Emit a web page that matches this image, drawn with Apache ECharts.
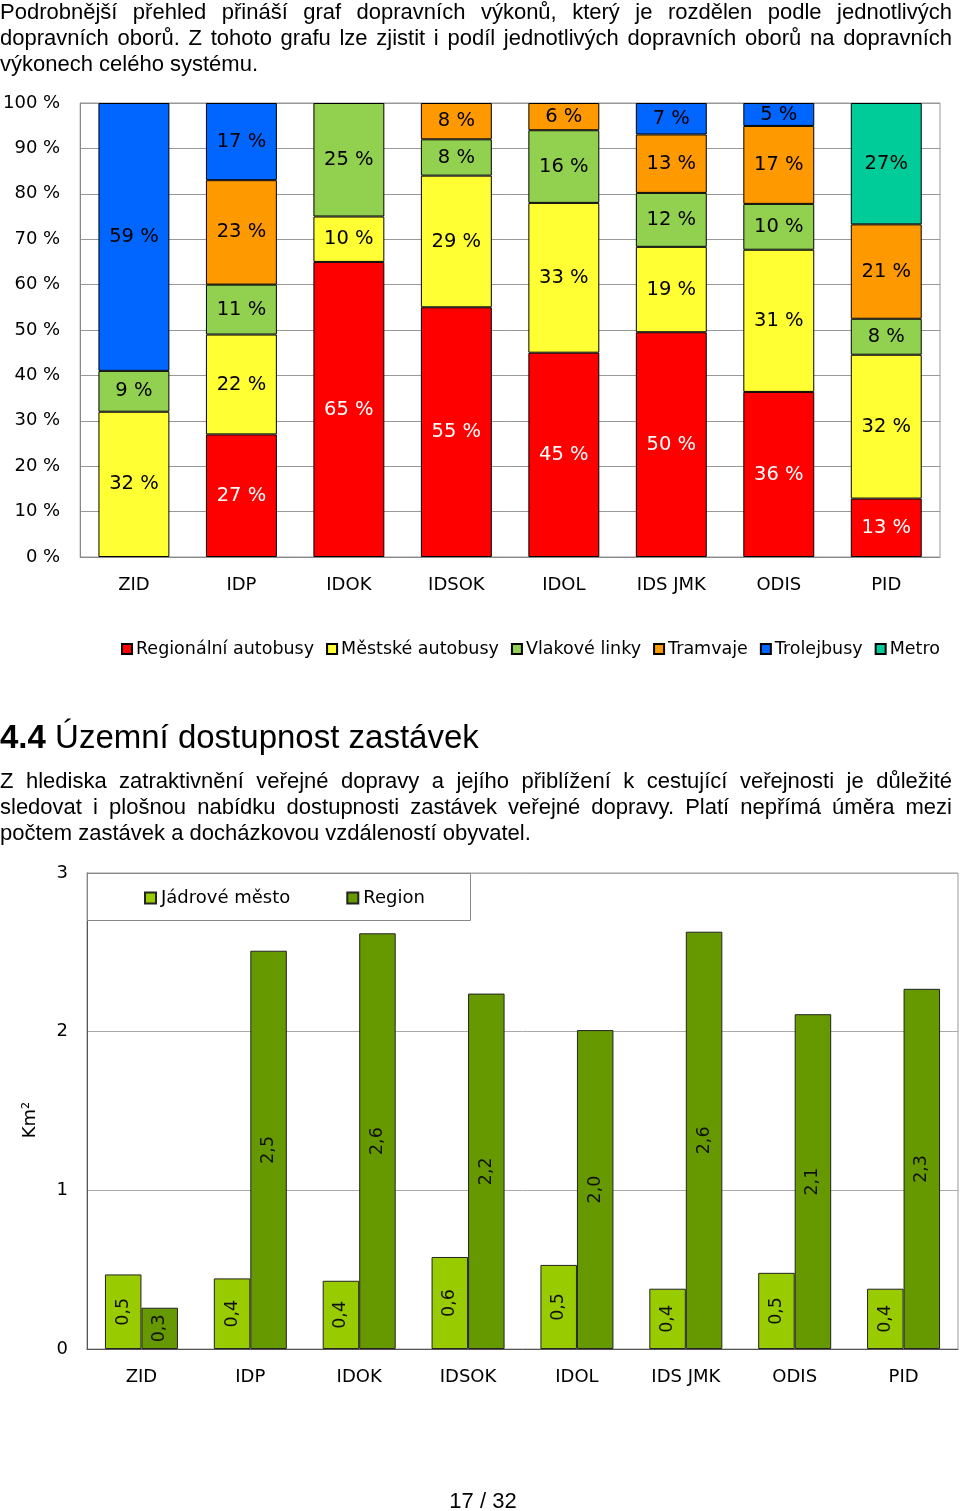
<!DOCTYPE html>
<html><head><meta charset="utf-8">
<script src="https://cdn.jsdelivr.net/npm/echarts@6/dist/echarts.min.js"></script>
<style>
html,body{margin:0;padding:0;background:#fff;}
#page{position:relative;width:960px;height:1511px;overflow:hidden;background:#fff;}
#chart{position:absolute;left:0;top:0;width:960px;height:1511px;}
.txt{position:absolute;left:0;width:952px;font-family:"Liberation Sans",Arial,sans-serif;font-size:22px;color:#000;z-index:5;}
.txt div{height:26px;line-height:26px;}
.j{text-align:justify;text-align-last:justify;}
</style></head>
<body><div id="page">
<div id="chart"></div>
<div class="txt" style="top:-1px;">
<div class="j">Podrobnější přehled přináší graf dopravních výkonů, který je rozdělen podle jednotlivých</div>
<div class="j">dopravních oborů. Z tohoto grafu lze zjistit i podíl jednotlivých dopravních oborů na dopravních</div>
<div>výkonech celého systému.</div>
</div>
<div class="txt" style="top:717px;font-size:33px;"><div style="height:40px;line-height:40px;"><b>4.4</b> Územní dostupnost zastávek</div></div>
<div class="txt" style="top:768px;">
<div class="j">Z hlediska zatraktivnění veřejné dopravy a jejího přiblížení k cestující veřejnosti je důležité</div>
<div class="j">sledovat i plošnou nabídku dostupnosti zastávek veřejné dopravy. Platí nepřímá úměra mezi</div>
<div>počtem zastávek a docházkovou vzdáleností obyvatel.</div>
</div>
<div class="txt" style="top:1488px;width:960px;text-align:center;"><div style="padding-left:6px;">17 / 32</div></div>
</div>
<script>
// ---- Chart 1: share of transport modes (%) ----
const categories = ['ZID','IDP','IDOK','IDSOK','IDOL','IDS JMK','ODIS','PID'];
const regionalni = [0,27,65,55,45,50,36,13];
const mestske    = [32,22,10,29,33,19,31,32];
const vlakove    = [9,11,25,8,16,12,10,8];
const tramvaje   = [0,23,0,8,6,13,17,21];
const trolejbusy = [59,17,0,0,0,7,5,0];
const metro      = [0,0,0,0,0,0,0,27];
const modeNames  = ['Regionální autobusy','Městské autobusy','Vlakové linky','Tramvaje','Trolejbusy','Metro'];
const pctTicks   = [0,10,20,30,40,50,60,70,80,90,100];

// ---- Chart 2: stop accessibility (km2) ----
const jadrove = [0.47,0.445,0.43,0.58,0.53,0.38,0.48,0.38];
const region  = [0.26,2.51,2.62,2.24,2.01,2.63,2.11,2.27];
const areaNames = ['Jádrové město','Region'];

const modeColors = ['#ff0000','#ffff33','#92d050','#ff9900','#0066ff','#00cc99'];
const labelSuffix = [' %',' %',' %',' %',' %','%'];
const modeValues = [regionalni, mestske, vlakove, tramvaje, trolejbusy, metro];
const totals = categories.map((c,j)=>modeValues.reduce((s,a)=>s+a[j],0));
const FF = 'DejaVu Sans';

const series = modeValues.map((arr,i)=>({
  name: modeNames[i], type:'bar', stack:'share', xAxisIndex:0, yAxisIndex:0,
  barWidth:'66%',
  data: arr.map((v,j)=> v ? {value: v/totals[j]*100, raw: v} : null),
  itemStyle:{color: modeColors[i], borderColor:'#000', borderWidth:1},
  label:{show:true, position:'inside', fontFamily:FF, fontSize:19.5,
    color: i===0 ? '#fff' : '#000',
    formatter: p => p.data ? p.data.raw + labelSuffix[i] : ''}
}));

const fmt = v => v.toFixed(1).replace('.', ',');
[jadrove, region].forEach((arr,i)=>{
  series.push({
    name: areaNames[i], type:'bar', xAxisIndex:1, yAxisIndex:1,
    barWidth:36.5, barGap:'0%',
    data: arr,
    itemStyle:{color: i===0 ? '#99cc00' : '#669900', borderColor:'#222', borderWidth:1},
    label:{show:true, position:'inside', rotate:90, fontFamily:FF, fontSize:17.5, color:'#111',
      formatter: p => fmt(p.value)}
  });
});

const chart = echarts.init(document.getElementById('chart'), null, {renderer:'canvas'});
chart.setOption({
  animation:false,
  backgroundColor:'#fff',
  grid:[
    {left:80, top:103, width:860, height:454, show:true, borderColor:'#999', borderWidth:1, backgroundColor:'transparent'},
    {left:87, top:873, width:871, height:476, show:true, borderColor:'#999', borderWidth:1, backgroundColor:'transparent'}
  ],
  xAxis:[
    {type:'category', gridIndex:0, data:categories,
      axisLine:{lineStyle:{color:'#888'}}, axisTick:{show:false},
      axisLabel:{fontFamily:FF, fontSize:18, color:'#000', margin:19}},
    {type:'category', gridIndex:1, data:categories,
      axisLine:{lineStyle:{color:'#555'}}, axisTick:{show:false},
      axisLabel:{fontFamily:FF, fontSize:18, color:'#000', margin:19}}
  ],
  yAxis:[
    {type:'value', gridIndex:0, min:pctTicks[0], max:pctTicks[pctTicks.length-1], interval:10,
      axisLine:{show:true, lineStyle:{color:'#888'}}, axisTick:{show:false},
      splitLine:{lineStyle:{color:'#999'}},
      axisLabel:{fontFamily:FF, fontSize:18, color:'#000', margin:20, formatter:'{value} %'}},
    {type:'value', gridIndex:1, min:0, max:3, interval:1,
      name:'Km²', nameLocation:'middle', nameGap:48, nameRotate:90,
      nameTextStyle:{fontFamily:FF, fontSize:18, color:'#000', padding:[0,18,0,0]},
      axisLine:{show:true, lineStyle:{color:'#555'}}, axisTick:{show:false},
      splitLine:{lineStyle:{color:'#aaa'}},
      axisLabel:{fontFamily:FF, fontSize:18, color:'#000', margin:19}}
  ],
  legend:[
    {data:modeNames, left:116, top:635, itemWidth:10, itemHeight:10, itemGap:12,
      icon:'rect', textStyle:{fontFamily:FF, fontSize:17.5, color:'#000', padding:[0,0,0,-1]}},
    {data:areaNames, left:139, top:884, itemWidth:11, itemHeight:11, itemGap:56, z:10,
      icon:'rect', textStyle:{fontFamily:FF, fontSize:18, color:'#000'}}
  ],
  graphic:[
    {type:'rect', z:3, shape:{x:87.5, y:873.5, width:383, height:47},
      style:{fill:'#fff', stroke:'#888', lineWidth:1}}
  ],
  series: series
});
</script>
</body></html>
